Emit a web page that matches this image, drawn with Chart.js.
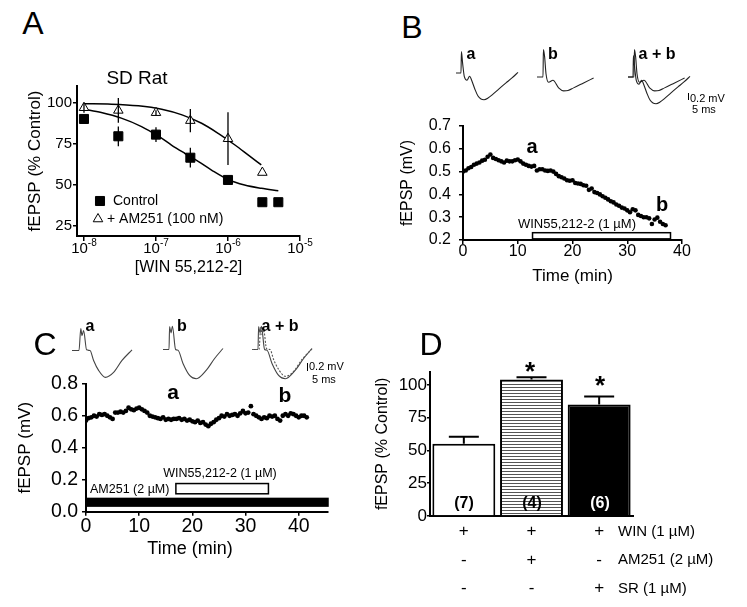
<!DOCTYPE html>
<html>
<head>
<meta charset="utf-8">
<script src="https://cdn.jsdelivr.net/npm/chart.js@4.4.1/dist/chart.umd.min.js"></script>
<style>
  body { margin: 0; background: #fff; }
  #fig { position: relative; width: 747px; height: 607px; overflow: hidden; background: #fff;
         font-family: "Liberation Sans", Arial, Helvetica, sans-serif; color: #000; }
  #fig canvas { position: absolute; }
  .t { position: absolute; white-space: nowrap; line-height: 1; transform: translate(-50%, -50%); }
  .vbar { position: absolute; width: 0; border-left: 1px solid #000; }
</style>
</head>
<body>
<div id="fig"></div>
<script>
// ---- Panel A: concentration-response ----
const concControl = [1e-8, 3e-8, 1e-7, 3e-7, 1e-6, 3e-6, 5e-6];
const control = [90, 79.5, 80.5, 66.5, 53, 39.5, 39.5];
const controlErr = [2, 6, 4.5, 6, 2, 0, 0];
const concAM251 = [1e-8, 3e-8, 1e-7, 3e-7, 1e-6, 3e-6];
const am251 = [96.8, 95.2, 93.8, 89, 78, 57.5];
const am251Err = [3, 7.5, 1.5, 7, 16, 0];
// fitted curves
const fitConcControl = [1e-8, 1.74e-8, 3.3e-8, 6.3e-8, 1.07e-7, 1.64e-7, 2.5e-7, 3.9e-7, 5.9e-7, 1e-6, 1.7e-6, 2.9e-6, 5e-6];
const fitControl = [95.9, 93.9, 90.5, 85.4, 79.7, 74.2, 69.2, 64.1, 59, 53.3, 49.9, 47.9, 46.4];
const fitConcAM251 = [1e-8, 2.4e-8, 5.7e-8, 1.2e-7, 2.3e-7, 4.3e-7, 7.3e-7, 1.25e-6, 1.9e-6, 2.9e-6];
const fitAM251 = [99.2, 99, 98, 95.9, 92.5, 87.4, 81.3, 74.2, 68.2, 62.1];
const aXTicks = [1e-8, 1e-7, 1e-6, 1e-5];
const aYTicks = [25, 50, 75, 100];

// ---- Panel B: WIN time course ----
const bTime = [0, 0.5, 1, 1.5, 2, 2.5, 3, 3.5, 4, 4.5, 5, 5.5, 6, 6.5, 7, 7.5, 8, 8.5, 9, 9.5,
  10, 10.5, 11, 11.5, 12, 12.5, 13, 13.5, 14, 14.5, 15, 15.5, 16, 16.5, 17, 17.5, 18, 18.5, 19, 19.5,
  20, 20.5, 21, 21.5, 22, 22.5, 23, 23.5, 24, 24.5, 25, 25.5, 26, 26.5, 27, 27.5, 28, 28.5, 29, 29.5,
  30, 30.5, 31, 31.5, 32, 32.5, 33, 33.5, 34, 34.5, 35, 35.5, 36, 36.5, 37];
const bFepsp = [0.500, 0.505, 0.515, 0.520, 0.530, 0.535, 0.540, 0.548, 0.552, 0.565, 0.575, 0.560, 0.555, 0.550, 0.545, 0.540, 0.548, 0.545, 0.545, 0.550,
  0.553, 0.545, 0.535, 0.530, 0.525, 0.522, 0.525, 0.505, 0.510, 0.510, 0.505, 0.503, 0.505, 0.500, 0.490, 0.480, 0.475, 0.470, 0.462, 0.460,
  0.462, 0.450, 0.448, 0.446, 0.440, 0.438, 0.420, 0.426, 0.410, 0.406, 0.400, 0.392, 0.385, 0.378, 0.370, 0.365, 0.356, 0.350, 0.342, 0.338,
  0.330, 0.322, 0.335, 0.330, 0.310, 0.305, 0.300, 0.300, 0.295, 0.270, 0.290, 0.298, 0.280, 0.270, 0.265];
const bWinPeriod = [12.7, 37.9];
const bXTicks = [0, 10, 20, 30, 40];
const bYTicks = [0.2, 0.3, 0.4, 0.5, 0.6, 0.7];

// ---- Panel C: WIN after AM251 ----
const cTime = [0, 0.5, 1, 1.5, 2, 2.5, 3, 3.5, 4, 4.5, 5, 5.5, 6, 6.5, 7, 7.5, 8, 8.5, 9, 9.5,
  10, 10.5, 11, 11.5, 12, 12.5, 13, 13.5, 14, 14.5, 15, 15.5, 16, 16.5, 17, 17.5, 18, 18.5, 19, 19.5,
  20, 20.5, 21, 21.5, 22, 22.5, 23, 23.5, 24, 24.5, 25, 25.5, 26, 26.5, 27, 27.5, 28, 28.5, 29, 29.5,
  30, 30.5, 31, 31.5, 32, 32.5, 33, 33.5, 34, 34.5, 35, 35.5, 36, 36.5, 37, 37.5, 38, 38.5, 39, 39.5,
  40, 40.5, 41, 41.5];
const cFepsp = [0.570, 0.585, 0.590, 0.600, 0.595, 0.610, 0.605, 0.610, 0.600, 0.590, 0.580, 0.620, 0.620, 0.625, 0.620, 0.630, 0.650, 0.640, 0.635, 0.645,
  0.650, 0.640, 0.630, 0.620, 0.600, 0.595, 0.590, 0.585, 0.580, 0.590, 0.575, 0.580, 0.575, 0.580, 0.580, 0.585, 0.575, 0.580, 0.570, 0.575,
  0.565, 0.560, 0.570, 0.555, 0.560, 0.545, 0.535, 0.550, 0.560, 0.575, 0.585, 0.600, 0.595, 0.610, 0.600, 0.605, 0.610, 0.600, 0.615, 0.630,
  0.615, 0.620, 0.660, 0.610, 0.600, 0.590, 0.580, 0.590, 0.585, 0.600, 0.595, 0.600, 0.580, 0.570, 0.600, 0.610, 0.600, 0.615, 0.610, 0.600,
  0.590, 0.600, 0.600, 0.590];
const cAm251Period = [0, 45.5];
const cWinPeriod = [16.9, 34.3];
const cXTicks = [0, 10, 20, 30, 40];
const cYTicks = [0, 0.2, 0.4, 0.6, 0.8];

// ---- example fEPSP traces (ms, mV from baseline) ----
const bTraceA_t = [0, 2.5, 2.7, 3.3, 4.2, 5.5, 6.8, 8, 9.5, 11, 12.5, 14, 16, 18.5, 21.5, 25, 28, 31];
const bTraceA_v = [0, 0, 0.65, 0.3, -0.12, -0.22, -0.1, -0.25, -0.5, -0.7, -0.79, -0.81, -0.76, -0.64, -0.48, -0.3, -0.15, 0.02];
const bTraceB_t = [0, 3, 3.2, 3.8, 4.5, 5.8, 8, 10.8, 13.3, 15.5, 18.3, 23.3, 28.3];
const bTraceB_v = [0, 0, 0.83, 0.62, 0.1, -0.16, -0.1, -0.33, -0.42, -0.41, -0.33, -0.18, -0.03];
const cTraceA_t = [0, 3.5, 4.4, 5.0, 5.8, 7.3, 9.0, 10.8, 13.3, 16.7, 20.8, 25, 30];
const cTraceA_v = [0, 0, 0.66, 0.45, 0.6, 0.02, 0, -0.3, -0.6, -0.81, -0.66, -0.3, 0.02];
const cTraceB_t = [0, 3, 3.3, 4.0, 4.7, 6.3, 7.5, 10, 13.3, 16.7, 21.7, 25.8, 30];
const cTraceB_v = [0, 0, 0.69, 0.5, 0.7, 0, -0.02, -0.42, -0.78, -0.88, -0.62, -0.27, 0.03];

// ---- Panel D: summary bars ----
const dMean = [55, 104, 85];
const dErr = [5.5, 1.8, 6];
const dN = ['(7)', '(4)', '(6)'];
const dRows = [['+', '-', '-'], ['+', '+', '-'], ['+', '-', '+']];
const dRowLabels = ['WIN (1 µM)', 'AM251 (2 µM)', 'SR (1 µM)'];
const dYTicks = [0, 25, 50, 75, 100];

const FONT = '"Liberation Sans", Arial, Helvetica, sans-serif';
Chart.defaults.font.family = FONT;
Chart.defaults.color = '#000';
Chart.defaults.animation = false;
Chart.defaults.responsive = false;
Chart.defaults.events = [];
Chart.defaults.plugins.legend.display = false;
Chart.defaults.plugins.tooltip.enabled = false;

const fig = document.getElementById('fig');
function makeCanvas(left, top, w, h) {
  const c = document.createElement('canvas');
  c.width = w; c.height = h;
  c.style.cssText = `left:${left}px;top:${top}px;width:${w}px;height:${h}px`;
  fig.appendChild(c);
  return c;
}
function label(text, x, y, css, anchorLeft) {
  const d = document.createElement('div');
  d.className = 't';
  d.textContent = text;
  d.style.cssText = `left:${x}px;top:${y}px;` + (css || '');
  if (anchorLeft) d.style.transform = 'translate(0,-50%)';
  fig.appendChild(d);
}
function xy(xs, ys) { return xs.map((x, i) => ({x: x, y: ys[i]})); }

// axis with fixed size so the plot area lands where the figure has it
function axis(o) {
  const a = {
    type: o.type || 'linear',
    afterFit: s => { if (s.isHorizontal()) s.height = o.size; else s.width = o.size; },
    grid: {drawOnChartArea: false, drawTicks: o.tick > 0, tickLength: o.tick || 0, color: '#000', lineWidth: 1.5},
    border: {color: '#000', width: 2},
    ticks: {display: o.showTicks !== false, font: {size: o.tickSize, lineHeight: o.tickLH || 1}, padding: o.pad || 0},
    title: {display: !!o.title, text: o.title || '', font: {size: o.titleSize, lineHeight: 1.2}, padding: o.titlePad || 0}
  };
  if (o.min !== undefined) a.min = o.min;
  if (o.max !== undefined) a.max = o.max;
  if (o.ticksAt) a.afterBuildTicks = s => { s.ticks = o.ticksAt.map(v => ({value: v})); };
  if (o.fmt) a.ticks.callback = o.fmt;
  return a;
}

const errorBars = {
  id: 'errorBars',
  afterDatasetsDraw(chart, args, opts) {
    const ctx = chart.ctx;
    chart.data.datasets.forEach((ds, i) => {
      if (!ds.errors) return;
      const meta = chart.getDatasetMeta(i);
      const ys = chart.scales[meta.yAxisID];
      ctx.save();
      ctx.strokeStyle = '#000';
      ctx.lineWidth = opts.lineWidth || 1.5;
      meta.data.forEach((el, j) => {
        const e = ds.errors[j];
        if (!e) return;
        const v = typeof ds.data[j] === 'object' ? ds.data[j].y : ds.data[j];
        const top = ys.getPixelForValue(v + e);
        const bot = opts.upOnly ? el.y : ys.getPixelForValue(v - e);
        ctx.beginPath();
        ctx.moveTo(el.x, top); ctx.lineTo(el.x, bot);
        if (opts.cap) { ctx.moveTo(el.x - opts.cap / 2, top); ctx.lineTo(el.x + opts.cap / 2, top); }
        ctx.stroke();
      });
      ctx.restore();
    });
  }
};

// drug application bars under the time courses
const periodBars = {
  id: 'periodBars',
  afterDatasetsDraw(chart, args, opts) {
    const {ctx, scales: {x, y}} = chart;
    (opts.bars || []).forEach(b => {
      const x0 = x.getPixelForValue(b.range[0]), x1 = x.getPixelForValue(b.range[1]);
      const y0 = y.getPixelForValue(b.band[1]), y1 = y.getPixelForValue(b.band[0]);
      ctx.save();
      ctx.fillStyle = b.fill;
      ctx.fillRect(x0, y0, x1 - x0, y1 - y0);
      ctx.strokeStyle = '#000';
      ctx.lineWidth = 1.5;
      ctx.strokeRect(x0, y0, x1 - x0, y1 - y0);
      ctx.restore();
    });
  }
};

// 10^n tick labels for the log axis
const powerTicks = {
  id: 'powerTicks',
  afterDraw(chart, args, opts) {
    const {ctx, scales: {x}} = chart;
    ctx.save();
    ctx.fillStyle = '#000';
    ctx.textBaseline = 'middle';
    ctx.textAlign = 'left';
    x.ticks.forEach(t => {
      const px = x.getPixelForValue(t.value);
      const exp = String(Math.round(Math.log10(t.value)));
      ctx.font = '15px ' + FONT;
      const wb = ctx.measureText('10').width;
      ctx.font = '10px ' + FONT;
      const we = ctx.measureText(exp).width;
      const left = px - (wb + we) / 2;
      ctx.font = '15px ' + FONT;
      ctx.fillText('10', left, opts.y);
      ctx.font = '10px ' + FONT;
      ctx.fillText(exp, left + wb, opts.y - 6);
    });
    ctx.restore();
  }
};

const legendA = {
  id: 'legendA',
  afterDraw(chart, args, opts) {
    const ctx = chart.ctx;
    opts.items.forEach(it => {
      const ds = chart.data.datasets[it.dataset];
      ctx.save();
      ctx.fillStyle = ds.backgroundColor;
      ctx.strokeStyle = ds.borderColor;
      ctx.lineWidth = ds.borderWidth;
      Chart.helpers.drawPoint(ctx, {pointStyle: ds.pointStyle, radius: ds.pointRadius, borderWidth: ds.borderWidth, rotation: 0}, it.x, it.y);
      ctx.fillStyle = '#000';
      ctx.font = '14px ' + FONT;
      ctx.textBaseline = 'middle';
      ctx.textAlign = 'left';
      ctx.fillText(it.text, it.tx, it.y);
      ctx.restore();
    });
  }
};

// ---------- Panel A ----------
new Chart(makeCanvas(0, 60, 320, 230), {
  type: 'scatter',
  data: {
    datasets: [
      {data: xy(concControl, control), errors: controlErr, pointStyle: 'rect', pointRadius: 6.4,
       backgroundColor: '#000', borderColor: '#000', borderWidth: 1},
      {data: xy(concAM251, am251), errors: am251Err, pointStyle: 'triangle', pointRadius: 5.5,
       backgroundColor: '#fff', borderColor: '#000', borderWidth: 1},
      {data: xy(fitConcControl, fitControl), showLine: true, pointRadius: 0, borderColor: '#000',
       borderWidth: 1.5, cubicInterpolationMode: 'monotone'},
      {data: xy(fitConcAM251, fitAM251), showLine: true, pointRadius: 0, borderColor: '#000',
       borderWidth: 1.5, cubicInterpolationMode: 'monotone'}
    ]
  },
  options: {
    layout: {padding: {left: 0, top: 26, right: 20, bottom: 0}},
    scales: {
      x: axis({type: 'logarithmic', min: 8e-9, max: 1e-5, size: 54, tick: 5, showTicks: false, ticksAt: aXTicks,
               title: '[WIN 55,212-2]', titleSize: 16, titlePad: {top: 0, bottom: 13}}),
      y: axis({min: 19, max: 110, size: 77, tick: 4, pad: 1, tickSize: 15, ticksAt: aYTicks,
               title: 'fEPSP (% Control)', titleSize: 17, titlePad: {top: 25, bottom: 0}})
    },
    plugins: {
      errorBars: {lineWidth: 1.3},
      powerTicks: {y: 189},
      legendA: {items: [
        {dataset: 0, x: 100, y: 141, tx: 113, text: 'Control'},
        {dataset: 1, x: 98, y: 159, tx: 107, text: '+ AM251 (100 nM)'}
      ]}
    }
  },
  plugins: [errorBars, powerTicks, legendA]
});

// ---------- Panel B ----------
new Chart(makeCanvas(380, 110, 367, 190), {
  type: 'scatter',
  data: {datasets: [{data: xy(bTime, bFepsp), pointRadius: 2.3, borderWidth: 0, backgroundColor: '#000'}]},
  options: {
    layout: {padding: {left: 0, top: 15, right: 65, bottom: 0}},
    scales: {
      x: axis({min: 0, max: 40, size: 60, tick: 4, tickSize: 16, ticksAt: bXTicks,
               title: 'Time (min)', titleSize: 17, titlePad: {top: 0, bottom: 13}}),
      y: axis({min: 0.2, max: 0.7, size: 83, tick: 4, pad: 8, tickSize: 16, ticksAt: bYTicks, fmt: v => v.toFixed(1),
               title: 'fEPSP (mV)', titleSize: 16, titlePad: {top: 18, bottom: 0}})
    },
    plugins: {periodBars: {bars: [{range: bWinPeriod, band: [0.205, 0.232], fill: '#fff'}]}}
  },
  plugins: [periodBars]
});

// ---------- Panel C ----------
new Chart(makeCanvas(0, 370, 340, 200), {
  type: 'scatter',
  data: {datasets: [{data: xy(cTime, cFepsp), pointRadius: 2.4, borderWidth: 0, backgroundColor: '#000'}]},
  options: {
    layout: {padding: {left: 0, top: 10, right: 12, bottom: 0}},
    scales: {
      x: axis({min: 0, max: 45.5, size: 58.3, tick: 4, pad: 1, tickSize: 19.5, ticksAt: cXTicks}),
      y: axis({min: 0, max: 0.8, size: 86, tick: 4, pad: 4, tickSize: 19.5, ticksAt: cYTicks, fmt: v => v.toFixed(1),
               title: 'fEPSP (mV)', titleSize: 17, titlePad: {top: 15, bottom: 0}})
    },
    plugins: {periodBars: {bars: [
      {range: cAm251Period, band: [0.035, 0.083], fill: '#000'},
      {range: cWinPeriod, band: [0.112, 0.176], fill: '#fff'}
    ]}}
  },
  plugins: [periodBars]
});

// ---------- Panel D ----------
function stripes() {
  const c = document.createElement('canvas');
  c.width = 4; c.height = 3;
  const g = c.getContext('2d');
  g.fillStyle = '#fff'; g.fillRect(0, 0, 4, 3);
  g.fillStyle = '#555'; g.fillRect(0, 0, 4, 1);
  return g.createPattern(c, 'repeat');
}
const dX = axis({size: 91, tick: 0, pad: -7, tickSize: 17, tickLH: 1.68});
dX.type = 'category';
dX.grid = {display: false};
new Chart(makeCanvas(370, 360, 275, 247), {
  type: 'bar',
  data: {
    labels: dRows,
    datasets: [{data: dMean, errors: dErr, backgroundColor: ['#fff', stripes(), '#000'], borderColor: '#000',
                borderWidth: 2, barPercentage: 0.93, categoryPercentage: 1}]
  },
  options: {
    layout: {padding: {left: 0, top: 11.7, right: 12, bottom: 0}},
    scales: {
      x: dX,
      y: axis({min: 0, max: 110, size: 60, tick: 3, pad: 0, tickSize: 17, ticksAt: dYTicks,
               title: 'fEPSP (% Control)', titleSize: 16, titlePad: {top: 3, bottom: 0}})
    },
    plugins: {errorBars: {upOnly: true, cap: 30, lineWidth: 2}}
  },
  plugins: [errorBars]
});

// ---------- example traces ----------
function traceChart(left, top, w, h, yMin, yMax, traces) {
  new Chart(makeCanvas(left, top, w, h), {
    type: 'scatter',
    data: {datasets: traces.map(tr => ({
      data: xy(tr.t, tr.v), showLine: true, pointRadius: 0, borderColor: tr.color,
      borderWidth: 1.1, borderDash: tr.dash || [], cubicInterpolationMode: 'monotone'
    }))},
    options: {
      layout: {padding: 0},
      scales: {x: {display: false, min: 0, max: w / 2}, y: {display: false, min: yMin, max: yMax}}
    }
  });
}
const bA = {t: bTraceA_t, v: bTraceA_v, color: '#222'};
const bB = {t: bTraceB_t, v: bTraceB_v, color: '#222'};
traceChart(456, 45, 64, 57, -0.88, 0.85, [bA]);
traceChart(537, 49, 64, 57, -0.88, 0.85, [bB]);
traceChart(628, 49, 64, 57, -0.88, 0.85, [bA, bB]);
const cA = {t: cTraceA_t, v: cTraceA_v, color: '#444'};
const cB = {t: cTraceB_t, v: cTraceB_v, color: '#444'};
traceChart(72, 324, 64, 58, -0.95, 0.8, [cA]);
traceChart(163, 323, 64, 58, -0.95, 0.8, [cB]);
traceChart(252, 323, 64, 58, -0.95, 0.8, [{t: cTraceA_t, v: cTraceA_v, color: '#555', dash: [2, 1.5]}, cB]);

// ---------- text labels ----------
const big = 'font-size:32px;';
label('A', 33, 23, big);
label('B', 412, 27, big);
label('C', 45, 344, big);
label('D', 431, 344, big);
label('SD Rat', 137, 77, 'font-size:19px;');

const tb = 'font-size:16px;font-weight:bold;';
label('a', 471, 54, tb); label('b', 553, 54, tb); label('a + b', 657, 54, tb);
label('a', 90, 326, tb); label('b', 182, 326, tb); label('a + b', 280, 326, tb);

label('a', 532, 146, 'font-size:20px;font-weight:bold;');
label('b', 662, 204, 'font-size:20px;font-weight:bold;');
label('WIN55,212-2 (1 µM)', 577, 223, 'font-size:13px;');

label('a', 173, 391, 'font-size:21px;font-weight:bold;');
label('b', 285, 394, 'font-size:21px;font-weight:bold;');
label('WIN55,212-2 (1 µM)', 220, 473, 'font-size:12.5px;');
label('AM251 (2 µM)', 90, 489, 'font-size:12.5px;', true);
label('Time (min)', 190, 548, 'font-size:18px;');

// scale bars
label('0.2 mV', 690, 98, 'font-size:11px;', true);
label('5 ms', 692, 109, 'font-size:11px;', true);
label('0.2 mV', 309, 366, 'font-size:11px;', true);
label('5 ms', 312, 379, 'font-size:11px;', true);
[[688, 93, 7], [307, 363, 8]].forEach(([x, y, h]) => {
  const d = document.createElement('div');
  d.className = 'vbar';
  d.style.cssText = `left:${x}px;top:${y}px;height:${h}px`;
  fig.appendChild(d);
});

// panel D annotations
label('*', 530, 371, 'font-size:26px;font-weight:bold;');
label('*', 600, 385, 'font-size:26px;font-weight:bold;');
const nX = [464, 532, 600];
dN.forEach((n, i) => label(n, nX[i], 503, 'font-size:16px;font-weight:bold;' + (i === 2 ? 'color:#fff;' : '')));
const rowY = [530, 558, 587];
dRowLabels.forEach((t, i) => label(t, 618, rowY[i], 'font-size:15px;', true));
</script>
</body>
</html>
